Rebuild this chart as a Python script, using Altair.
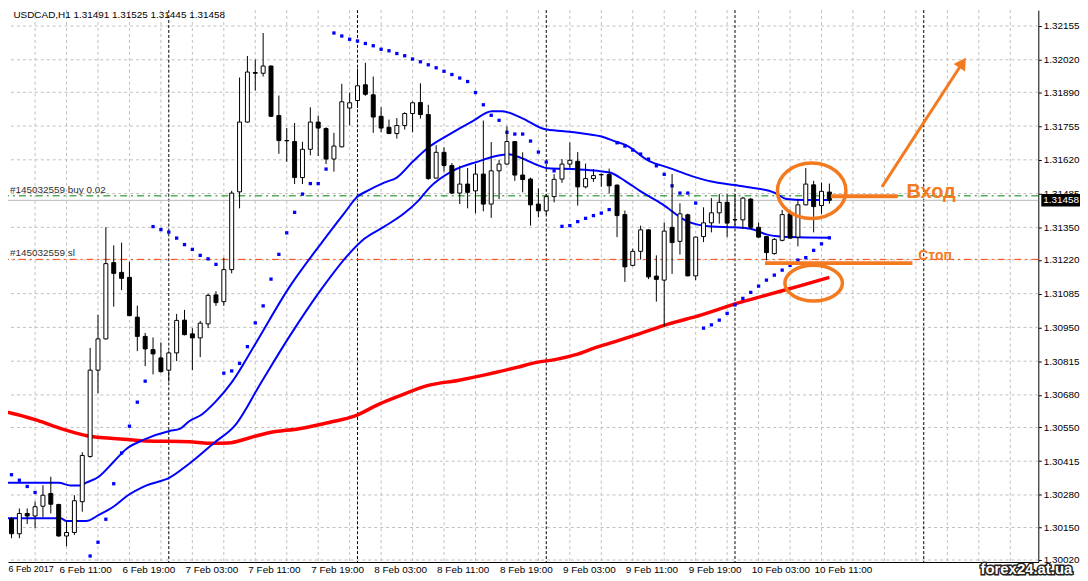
import altair as alt
import pandas as pd

# ---------------- data ----------------
opens = [1.30185, 1.30125, 1.30206, 1.30196, 1.30235, 1.30286, 1.30242, 1.30116, 1.30130, 1.30253,
         1.30434, 1.30779, 1.30904, 1.31209, 1.31170, 1.31150, 1.30991, 1.30914, 1.30861, 1.30828,
         1.30779, 1.30848, 1.30979, 1.30924, 1.30908, 1.30964, 1.31080, 1.31053, 1.31181, 1.31492,
         1.31771, 1.31969, 1.31966, 1.31995, 1.31797, 1.31697, 1.31693, 1.31549, 1.31662, 1.31771,
         1.31745, 1.31623, 1.31672, 1.31827, 1.31857, 1.31920, 1.31880, 1.31794, 1.31750, 1.31725,
         1.31757, 1.31805, 1.31849, 1.31801, 1.31547, 1.31650, 1.31597, 1.31487, 1.31523, 1.31496,
         1.31563, 1.31443, 1.31576, 1.31603, 1.31693, 1.31559, 1.31543, 1.31443, 1.31416, 1.31473,
         1.31543, 1.31603, 1.31614, 1.31512, 1.31545, 1.31561, 1.31561, 1.31519, 1.31401, 1.31198,
         1.31254, 1.31340, 1.31155, 1.31139, 1.31350, 1.31294, 1.31400, 1.31156, 1.31313, 1.31368,
         1.31408, 1.31450, 1.31381, 1.31380, 1.31463, 1.31350, 1.31313, 1.31245, 1.31298, 1.31404,
         1.31311, 1.31440, 1.31520, 1.31437, 1.31491]
highs = [1.30191, 1.30226, 1.30226, 1.30254, 1.30319, 1.30353, 1.30245, 1.30175, 1.30279, 1.30451,
         1.30868, 1.31000, 1.31351, 1.31278, 1.31289, 1.31212, 1.31037, 1.30928, 1.30910, 1.30890,
         1.30855, 1.31004, 1.31020, 1.30947, 1.30976, 1.31085, 1.31095, 1.31229, 1.31496, 1.31949,
         1.32035, 1.32021, 1.32127, 1.31997, 1.31877, 1.31747, 1.31767, 1.31692, 1.31830, 1.31797,
         1.31750, 1.31728, 1.31924, 1.31889, 1.31985, 1.32008, 1.31953, 1.31830, 1.31781, 1.31787,
         1.31810, 1.31853, 1.31926, 1.31840, 1.31678, 1.31670, 1.31607, 1.31596, 1.31587, 1.31604,
         1.31777, 1.31691, 1.31620, 1.31754, 1.31695, 1.31650, 1.31549, 1.31506, 1.31483, 1.31563,
         1.31623, 1.31689, 1.31651, 1.31605, 1.31583, 1.31565, 1.31585, 1.31521, 1.31417, 1.31265,
         1.31357, 1.31342, 1.31238, 1.31370, 1.31563, 1.31446, 1.31405, 1.31313, 1.31430, 1.31467,
         1.31483, 1.31483, 1.31483, 1.31472, 1.31467, 1.31370, 1.31315, 1.31307, 1.31420, 1.31420,
         1.31460, 1.31587, 1.31536, 1.31529, 1.31525]
lows = [1.30107, 1.30107, 1.30164, 1.30147, 1.30191, 1.30206, 1.30113, 1.30075, 1.30120, 1.30213,
        1.30429, 1.30687, 1.30902, 1.31033, 1.31099, 1.30995, 1.30855, 1.30795, 1.30762, 1.30769,
        1.30733, 1.30815, 1.30918, 1.30779, 1.30831, 1.30947, 1.31036, 1.31036, 1.31166, 1.31426,
        1.31769, 1.31897, 1.31953, 1.31791, 1.31644, 1.31612, 1.31523, 1.31523, 1.31638, 1.31635,
        1.31603, 1.31573, 1.31670, 1.31758, 1.31827, 1.31876, 1.31728, 1.31730, 1.31723, 1.31705,
        1.31741, 1.31730, 1.31785, 1.31540, 1.31545, 1.31573, 1.31483, 1.31443, 1.31426, 1.31406,
        1.31414, 1.31388, 1.31463, 1.31601, 1.31536, 1.31490, 1.31357, 1.31390, 1.31400, 1.31450,
        1.31528, 1.31588, 1.31437, 1.31506, 1.31532, 1.31512, 1.31486, 1.31311, 1.31132, 1.31194,
        1.31221, 1.31143, 1.31053, 1.30954, 1.31164, 1.31241, 1.31154, 1.31139, 1.31291, 1.31330,
        1.31365, 1.31311, 1.31357, 1.31344, 1.31344, 1.31308, 1.31218, 1.31241, 1.31294, 1.31305,
        1.31274, 1.31438, 1.31330, 1.31404, 1.31445]
closes = [1.30125, 1.30206, 1.30196, 1.30233, 1.30279, 1.30243, 1.30116, 1.30130, 1.30257, 1.30438,
          1.30779, 1.30904, 1.31205, 1.31166, 1.31146, 1.30997, 1.30914, 1.30864, 1.30844, 1.30773,
          1.30848, 1.30978, 1.30921, 1.30908, 1.30967, 1.31078, 1.31049, 1.31181, 1.31487, 1.31771,
          1.31971, 1.31966, 1.31995, 1.31794, 1.31697, 1.31696, 1.31549, 1.31662, 1.31771, 1.31747,
          1.31623, 1.31675, 1.31852, 1.31848, 1.31916, 1.31882, 1.31791, 1.31747, 1.31725, 1.31757,
          1.31805, 1.31848, 1.31801, 1.31545, 1.31650, 1.31597, 1.31487, 1.31523, 1.31490, 1.31563,
          1.31443, 1.31576, 1.31603, 1.31693, 1.31559, 1.31541, 1.31440, 1.31416, 1.31473, 1.31542,
          1.31603, 1.31618, 1.31512, 1.31545, 1.31557, 1.31560, 1.31516, 1.31397, 1.31192, 1.31254,
          1.31340, 1.31152, 1.31142, 1.31335, 1.31289, 1.31404, 1.31156, 1.31311, 1.31368, 1.31408,
          1.31450, 1.31367, 1.31380, 1.31467, 1.31350, 1.31311, 1.31249, 1.31302, 1.31401, 1.31307,
          1.31440, 1.31523, 1.31433, 1.31494, 1.31458]
bar_idx = list(range(len(opens)))

# moving averages (bar index, price)
ma_slow_idx = [-1, 0, 3.4, 6.4, 9.6, 13.9, 17.1, 22.6, 25.1, 27.6, 30.1, 32.6, 36.75, 40.5, 43.6,
               46.75, 49.25, 53, 56.75, 60.5, 64.25, 66.75, 69.25, 71.75, 74.25, 76.75, 79.9,
               83.6, 87.75, 92, 96.1, 100.25, 104]
ma_slow_val = [1.30612, 1.30607, 1.30577, 1.30544, 1.30517, 1.30504, 1.30496, 1.30493, 1.30487,
               1.30488, 1.30507, 1.30528, 1.30546, 1.30571, 1.30595, 1.30643, 1.30675, 1.30718,
               1.30738, 1.30762, 1.30790, 1.30810, 1.30822, 1.30841, 1.30869, 1.30893, 1.30925,
               1.30964, 1.31000, 1.31044, 1.31080, 1.31116, 1.31150]
ma_fast_idx = [-1, 0, 6, 7.5, 8.75, 9.5, 11.1, 13, 14.6, 16.75, 20.1, 21.4, 22.6, 24.25, 25.9, 28,
               31.1, 35.25, 39.5, 42.4, 44, 45.25, 47.4, 49, 51.1, 53.25, 55.25, 58.6, 61.1, 62.4,
               64.9, 67.75, 70.25, 72, 74.9, 77, 78, 81.1, 83.6, 86.5, 89, 92, 94, 97, 98.6,
               100.75, 104]
ma_fast_val = [1.30329, 1.30329, 1.30329, 1.30318, 1.30318, 1.30329, 1.30353, 1.30413, 1.30464,
               1.30500, 1.30536, 1.30544, 1.30575, 1.30603, 1.30651, 1.30730, 1.30889, 1.31107,
               1.31291, 1.31410, 1.31473, 1.31496, 1.31529, 1.31549, 1.31615, 1.31675, 1.31714,
               1.31774, 1.31814, 1.31814, 1.31787, 1.31743, 1.31734, 1.31728, 1.31714, 1.31691,
               1.31681, 1.31615, 1.31588, 1.31555, 1.31533, 1.31519, 1.31509, 1.31489, 1.31463,
               1.31459, 1.31459]
ma_mid_idx = [-1, 0, 6.25, 7, 9.5, 11.1, 13, 14.6, 17.1, 20.1, 22.6, 25.75, 28.4, 31.75, 35.25,
              39.5, 42.75, 44.9, 47.4, 49.9, 51.75, 53.25, 56.1, 59.5, 61.1, 63.25, 64.5, 67,
              68.25, 72, 74.5, 76.1, 78, 79.9, 82.75, 85.75, 89, 92, 94, 96.1, 99, 104]
ma_mid_val = [1.30187, 1.30187, 1.30187, 1.30176, 1.30176, 1.30200, 1.30234, 1.30274, 1.30317,
              1.30349, 1.30405, 1.30488, 1.30557, 1.30730, 1.30909, 1.31107, 1.31238, 1.31305,
              1.31353, 1.31405, 1.31457, 1.31512, 1.31576, 1.31615, 1.31631, 1.31642, 1.31631,
              1.31598, 1.31586, 1.31582, 1.31576, 1.31569, 1.31536, 1.31496, 1.31443, 1.31377,
              1.31353, 1.31350, 1.31344, 1.31321, 1.31311, 1.31308]

# parabolic SAR dots
sar_idx = [0, 1, 2, 3] + list(range(10, 105))
sar_val = [1.30361, 1.30339, 1.30314, 1.30290,
           1.30036, 1.30091, 1.30183, 1.30325, 1.30448, 1.30555, 1.30651, 1.30735,
           1.31353, 1.31341, 1.31331, 1.31307, 1.31281, 1.31262, 1.31238, 1.31224, 1.31202,
           1.30767, 1.30776, 1.30806, 1.30873, 1.30968, 1.31036, 1.31143, 1.31242, 1.31328,
           1.31410, 1.31483, 1.31525, 1.31525, 1.31583,
           1.32127, 1.32115, 1.32102, 1.32095, 1.32085, 1.32076, 1.32062, 1.32056, 1.32045,
           1.32036, 1.32023, 1.32012, 1.32000, 1.31988, 1.31974, 1.31961, 1.31947, 1.31933,
           1.31889, 1.31840, 1.31798, 1.31778, 1.31730, 1.31723, 1.31723, 1.31695, 1.31651,
           1.31611, 1.31576,
           1.31354, 1.31357, 1.31373, 1.31386, 1.31397, 1.31407, 1.31421,
           1.31688, 1.31675, 1.31659, 1.31643, 1.31623, 1.31596, 1.31562, 1.31516, 1.31487,
           1.31487, 1.31447,
           1.30947, 1.30960, 1.30979, 1.31006, 1.31040, 1.31066, 1.31090, 1.31115, 1.31139,
           1.31159, 1.31179, 1.31198, 1.31219, 1.31229, 1.31258, 1.31284, 1.31308]

# axes
xlabel_idx = [7, 15, 23, 31, 39, 47, 55, 63, 71, 79, 87, 95, 103]
xlabel_txt = ["6 Feb 11:00", "6 Feb 19:00", "7 Feb 03:00", "7 Feb 11:00",
              "7 Feb 19:00", "8 Feb 03:00", "8 Feb 11:00", "8 Feb 19:00", "9 Feb 03:00",
              "9 Feb 11:00", "9 Feb 19:00", "10 Feb 03:00", "10 Feb 11:00"]
first_label = "6 Feb 2017"
price_ticks = [1.32155, 1.32020, 1.31890, 1.31755, 1.31620, 1.31485, 1.31350, 1.31220,
               1.31085, 1.30950, 1.30815, 1.30680, 1.30550, 1.30415, 1.30280, 1.30150, 1.30020]
vgrid_idx = [3, 7, 11, 15, 19, 23, 27, 31, 35, 39, 43, 47, 51, 55, 59, 63, 67, 71, 75, 79, 83,
             87, 91, 95, 99, 103, 107, 111, 115, 119, 123, 127]
day_sep_idx = [20, 44, 68, 92, 116]

# order lines
buy_price = 1.31476
sl_price = 1.31222
bid_price = 1.31458
order_labels = ["#145032559 buy 0.02", "#145032559 sl"]
title_text = "USDCAD,H1  1.31491 1.31525 1.31445 1.31458"

# annotations
entry_seg = {"i1": [104.19], "i2": [112.69], "p": [1.31474]}
stop_seg = {"i1": [95.81], "i2": [114.56], "p": [1.31207]}
arrow_seg = {"i1": [110.69], "i2": [120.69], "p1": [1.31512], "p2": [1.31996]}
arrow_head = {"i": [120.94], "p": [1.32008]}
ellipse1 = {"i": [101.75], "p": [1.31496]}
ellipse2 = {"i": [102.0], "p": [1.31127]}
entry_txt = {"i": [113.81], "p": [1.31492], "t": ["Вход"]}
stop_txt = {"i": [115.31], "p": [1.31234], "t": ["Стоп"]}

# ---------------- chart ----------------
W, H = 1038, 556
FONT = "Liberation Sans"
ORANGE = "#F47A20"
GRID = "#C0C0C0"
xs = alt.Scale(domain=[0.1875, 0.1875 + W / 8], nice=False, zero=False)
ys = alt.Scale(domain=[1.30012, 1.322185], nice=False, zero=False)

labels_js = "[" + ",".join("'" + t + "'" for t in xlabel_txt) + "]"
idx_js = "[" + ",".join(str(v) for v in xlabel_idx) + "]"

x_axis = alt.Axis(values=xlabel_idx, labelExpr=labels_js + "[indexof(" + idx_js + ", datum.value)]",
                  grid=False, ticks=False, domain=True, domainColor="black", labelAlign="left",
                  labelOffset=-7.5, labelPadding=3, labelFont=FONT, labelFontSize=10,
                  labelColor="black", labelOverlap=False, labelFlush=False, labelBound=False,
                  title=None)
y_axis = alt.Axis(values=price_ticks, format=".5f", orient="right", grid=False,
                  ticks=True, tickSize=3, tickColor="black", domain=True, domainColor="black",
                  labelPadding=2, labelFont=FONT, labelFontSize=10, labelColor="black",
                  labelOverlap=False, labelFlush=False, labelBound=False, title=None)


def X(f, **kw):
    return alt.X(f, type="quantitative", scale=xs, axis=x_axis, **kw)


def Y(f, **kw):
    return alt.Y(f, type="quantitative", scale=ys, axis=y_axis, **kw)


df = pd.DataFrame({"i": bar_idx, "o": opens, "h": highs, "l": lows, "c": closes})

hgrid = alt.Chart(pd.DataFrame({"p": price_ticks})).mark_rule(
    color=GRID, strokeDash=[3, 3], strokeWidth=1).encode(y=Y("p"))
vgrid = alt.Chart(pd.DataFrame({"i": vgrid_idx})).mark_rule(
    color=GRID, strokeDash=[3, 3], strokeWidth=1).encode(x=X("i"))
days = alt.Chart(pd.DataFrame({"i": day_sep_idx})).mark_rule(
    color="black", strokeDash=[3, 2], strokeWidth=1).encode(x=X("i"))

bid_line = alt.Chart(pd.DataFrame({"p": [bid_price]})).mark_rule(
    color="#B8B8B8", strokeWidth=1).encode(y=Y("p"))
buy_line = alt.Chart(pd.DataFrame({"p": [buy_price]})).mark_rule(
    color="#008000", strokeDash=[7, 4, 2, 4], strokeWidth=1).encode(y=Y("p"))
sl_line = alt.Chart(pd.DataFrame({"p": [sl_price]})).mark_rule(
    color="#FF4500", strokeDash=[7, 4, 2, 4], strokeWidth=1).encode(y=Y("p"))
order_txt = alt.Chart(pd.DataFrame({"i": [-0.19, -0.19], "p": [buy_price, sl_price],
                                    "t": order_labels})).mark_text(
    align="left", baseline="bottom", dy=-1, font=FONT, fontSize=10, color="#303030").encode(
    x=X("i"), y=Y("p"), text="t:N")

slow = alt.Chart(pd.DataFrame({"i": ma_slow_idx, "p": ma_slow_val})).mark_line(
    color="#FF0000", strokeWidth=3.5, interpolate="monotone").encode(x=X("i"), y=Y("p"))
fast = alt.Chart(pd.DataFrame({"i": ma_fast_idx, "p": ma_fast_val})).mark_line(
    color="#0000FF", strokeWidth=2, interpolate="monotone").encode(x=X("i"), y=Y("p"))
mid = alt.Chart(pd.DataFrame({"i": ma_mid_idx, "p": ma_mid_val})).mark_line(
    color="#0000FF", strokeWidth=2, interpolate="monotone").encode(x=X("i"), y=Y("p"))
sar = alt.Chart(pd.DataFrame({"i": sar_idx, "p": sar_val})).mark_square(
    color="#0000FF", size=11, opacity=1).encode(x=X("i"), y=Y("p"))

wicks = alt.Chart(df).mark_rule(color="black", strokeWidth=1).encode(
    x=X("i"), y=Y("l"), y2="h:Q")
bear = alt.Chart(df).transform_filter("datum.c < datum.o").mark_bar(
    size=4, fill="black", stroke="black", strokeWidth=1, opacity=1).encode(
    x=X("i"), y=Y("o"), y2="c:Q")
bull = alt.Chart(df).transform_filter("datum.c >= datum.o").mark_bar(
    size=4, fill="white", stroke="black", strokeWidth=1, opacity=1).encode(
    x=X("i"), y=Y("o"), y2="c:Q")

# annotations
k = 0.5523


def ellipse_path(r):
    return (f"M1,0 C1,{k*r:.4f} {k},{r:.4f} 0,{r:.4f} C{-k},{r:.4f} -1,{k*r:.4f} -1,0 "
            f"C-1,{-k*r:.4f} {-k},{-r:.4f} 0,{-r:.4f} C{k},{-r:.4f} 1,{-k*r:.4f} 1,0 Z")


ell1 = alt.Chart(pd.DataFrame(ellipse1)).mark_point(
    shape=ellipse_path(0.81), size=4761, filled=False, stroke=ORANGE, strokeWidth=3.5,
    opacity=1).encode(x=X("i"), y=Y("p"))
ell2 = alt.Chart(pd.DataFrame(ellipse2)).mark_point(
    shape=ellipse_path(0.62), size=3364, filled=False, stroke=ORANGE, strokeWidth=3.5,
    opacity=1).encode(x=X("i"), y=Y("p"))
entry_line = alt.Chart(pd.DataFrame(entry_seg)).mark_rule(
    color=ORANGE, strokeWidth=4).encode(x=X("i1"), x2="i2:Q", y=Y("p"))
stop_line = alt.Chart(pd.DataFrame(stop_seg)).mark_rule(
    color=ORANGE, strokeWidth=4).encode(x=X("i1"), x2="i2:Q", y=Y("p"))
arrow_line = alt.Chart(pd.DataFrame(arrow_seg)).mark_rule(
    color=ORANGE, strokeWidth=3).encode(x=X("i1"), x2="i2:Q", y=Y("p1"), y2="p2:Q")
arrow_tip = alt.Chart(pd.DataFrame(arrow_head)).mark_point(
    shape="triangle-up", filled=True, size=190, angle=33.3, color=ORANGE, opacity=1).encode(
    x=X("i"), y=Y("p"))
entry_label = alt.Chart(pd.DataFrame(entry_txt)).mark_text(
    align="left", baseline="middle", font=FONT, fontSize=20, fontWeight="bold",
    color=ORANGE).encode(x=X("i"), y=Y("p"), text="t:N")
stop_label = alt.Chart(pd.DataFrame(stop_txt)).mark_text(
    align="left", baseline="middle", font=FONT, fontSize=14, fontWeight="bold",
    color=ORANGE).encode(x=X("i"), y=Y("p"), text="t:N")

# current price tag on the price axis
tag_box = alt.Chart(pd.DataFrame({"p1": [bid_price + 0.00025], "p2": [bid_price - 0.00025]})).mark_rect(
    color="black").encode(x=alt.value(W + 3), x2=alt.value(W + 42), y=Y("p1"), y2="p2:Q")
tag_txt = alt.Chart(pd.DataFrame({"p": [bid_price], "t": ["1.31458"]})).mark_text(
    align="left", baseline="middle", font=FONT, fontSize=10, color="white").encode(
    x=alt.value(W + 5), y=Y("p"), text="t:N")

title = alt.Chart(pd.DataFrame({"t": [title_text]})).mark_text(
    align="left", baseline="top", font=FONT, fontSize=10, color="black").encode(
    x=alt.value(5.5), y=alt.value(0), text="t:N")
first_lab = alt.Chart(pd.DataFrame({"t": [first_label]})).mark_text(
    align="left", baseline="top", font=FONT, fontSize=9, color="black").encode(
    x=alt.value(0.5), y=alt.value(H + 3.5), text="t:N")

wm_df = pd.DataFrame({"t": ["forex24.at.ua"]})
wm_back = alt.Chart(wm_df).mark_text(
    align="center", baseline="middle", font=FONT, fontSize=15, fontWeight="bold",
    fill="#222222", stroke="#222222", strokeWidth=3).encode(
    x=alt.value(W - 12), y=alt.value(H + 7), text="t:N")
wm_front = alt.Chart(wm_df).mark_text(
    align="center", baseline="middle", font=FONT, fontSize=15, fontWeight="bold",
    fill="white").encode(x=alt.value(W - 12), y=alt.value(H + 7), text="t:N")

chart = alt.layer(
    hgrid, vgrid, days, bid_line, buy_line, sl_line, order_txt,
    slow, fast, mid, sar, wicks, bear, bull,
    ell1, ell2, entry_line, stop_line, arrow_line, arrow_tip, entry_label, stop_label,
    tag_box, tag_txt, title, first_lab, wm_back, wm_front
).properties(
    width=W, height=H,
    autosize=alt.AutoSizeParams(type="none"),
    padding={"left": 0, "top": 0, "right": 42, "bottom": 17},
    background="white",
).configure_view(strokeWidth=0)

chart.save("out.html", embed_options={"renderer": "svg", "actions": False})
